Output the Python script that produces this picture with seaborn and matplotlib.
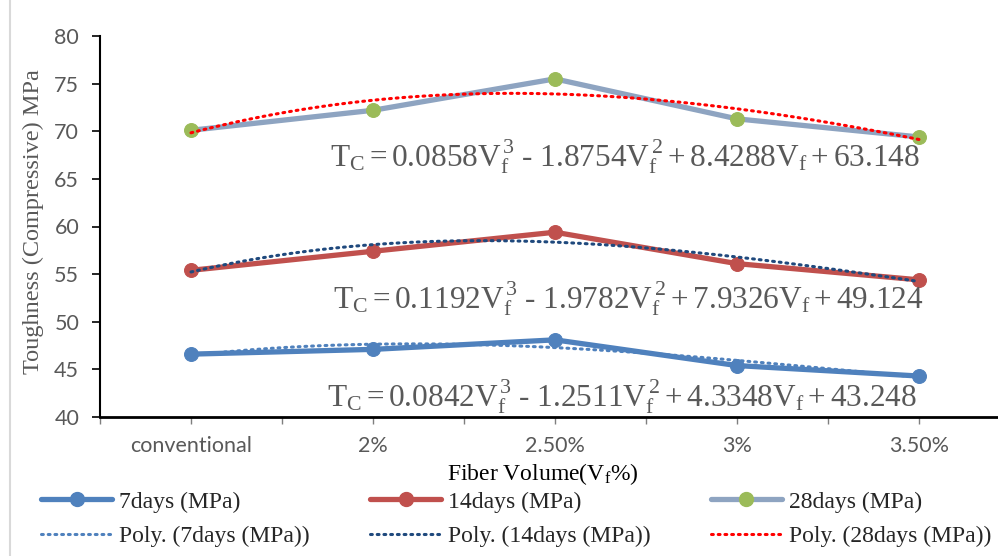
import numpy as np
import pandas as pd
import matplotlib
matplotlib.use("Agg")
import matplotlib.pyplot as plt
from matplotlib.lines import Line2D
import seaborn as sns

# data
categories = ["conventional", "2%", "2.50%", "3%", "3.50%"]
days7 = [46.6, 47.1, 48.1, 45.4, 44.3]
days14 = [55.4, 57.4, 59.4, 56.1, 54.4]
days28 = [70.1, 72.2, 75.5, 71.3, 69.4]

eq28 = r"$\mathregular{T_C = 0.0858V_f^{\,3}\ \text{-}\ 1.8754V_f^{\,2} + 8.4288V_f + 63.148}$"
eq14 = r"$\mathregular{T_C = 0.1192V_f^{\,3}\ \text{-}\ 1.9782V_f^{\,2} + 7.9326V_f + 49.124}$"
eq7 = r"$\mathregular{T_C = 0.0842V_f^{\,3}\ \text{-}\ 1.2511V_f^{\,2} + 4.3348V_f + 43.248}$"

sns.set_style("white")
plt.rcParams["mathtext.fontset"] = "custom"
plt.rcParams["mathtext.rm"] = "Liberation Serif"
plt.rcParams["mathtext.it"] = "Liberation Serif:italic"
plt.rcParams["font.family"] = ["Liberation Serif", "DejaVu Sans"]

grey = "#595959"
x = np.arange(len(categories))
df = pd.DataFrame({"x": x, "d7": days7, "d14": days14, "d28": days28})

W, H = 998, 556
fig = plt.figure(figsize=(W / 100, H / 100), dpi=100)
ax = fig.add_axes([100 / W, 1 - 417 / H, 910 / W, 381 / H])

# Excel chart border (left edge visible)
fig.add_artist(Line2D([10 / W, 10 / W], [0, 1], color="#d9d9d9", lw=1.5))

series = [
    ("d7", "7days (MPa)", "#4f81bd", "#4f81bd", "#4f81bd", "Poly. (7days (MPa))"),
    ("d14", "14days (MPa)", "#c0504d", "#c0504d", "#1f497d", "Poly. (14days (MPa))"),
    ("d28", "28days (MPa)", "#8ea4c1", "#9bbb59", "#ff0000", "Poly. (28days (MPa))"),
]

handles = []
for col, lab, lc, mc, pc, plab in series:
    sns.lineplot(data=df, x="x", y=col, ax=ax, color=lc, lw=3.8, marker="o",
                 markersize=10, markerfacecolor=mc, markeredgecolor=mc,
                 label=lab, legend=False, zorder=3)
    sns.regplot(data=df, x="x", y=col, order=3, scatter=False, ci=None, ax=ax,
                truncate=True,
                line_kws=dict(color=pc, lw=2.2, linestyle=(0, (0.6, 1.6)),
                              dash_capstyle="round", zorder=4))
    h_main = Line2D([], [], color=lc, lw=3.8, marker="o", markersize=10,
                    markerfacecolor=mc, markeredgecolor=mc)
    h_poly = Line2D([], [], color=pc, lw=2.2, linestyle=(0, (0.6, 1.6)),
                    dash_capstyle="round")
    handles += [(h_main, lab), (h_poly, plab)]

ax.set_xlabel("")
ax.set_ylabel("")

ax.text(2.385, 67.3, eq28, fontsize=22.5, color=grey, ha="center", va="center")
ax.text(2.40, 52.4, eq14, fontsize=22.5, color=grey, ha="center", va="center")
ax.text(2.37, 42.1, eq7, fontsize=22.5, color=grey, ha="center", va="center")

ax.set_xlim(-0.5, 4.5)
ax.set_ylim(40, 80)
ax.set_yticks(np.arange(40, 81, 5))
ax.set_xticks(x)
ax.set_xticklabels(categories)
ax.set_xticks(np.arange(-0.5, 4.6, 1), minor=True)

for s in ["top", "right"]:
    ax.spines[s].set_visible(False)
ax.spines["left"].set_color("black")
ax.spines["left"].set_linewidth(1.5)
ax.spines["bottom"].set_color("black")
ax.spines["bottom"].set_linewidth(2)

ax.tick_params(axis="y", which="major", direction="out", length=6, width=1.2,
               color="black", left=True, labelsize=15.5, labelcolor=grey, pad=9)
ax.tick_params(axis="x", which="both", direction="out", length=5, width=1,
               color="#7f7f7f", bottom=True, labelsize=15.5, labelcolor=grey, pad=9)
for lbl in ax.get_xticklabels() + ax.get_yticklabels():
    lbl.set_fontfamily(["Lato", "DejaVu Sans"])

fig.text(543 / W, 1 - 474 / H, r"Fiber Volume(V$_\mathregular{f}$%)", fontsize=17,
         color="black", ha="center", va="center")
fig.text(33 / W, 1 - 222 / H, "Toughness (Compressive) MPa", fontsize=17.5,
         color=grey, rotation=90, ha="center", va="center")

fig.legend([h for h, _ in handles], [l for _, l in handles], ncol=3,
           loc="center left", bbox_to_anchor=(32 / W, 1 - 519 / H),
           frameon=False, fontsize=17, handlelength=3.0, handletextpad=0.3,
           columnspacing=2.55, labelspacing=0.55, borderaxespad=0)

fig.savefig("out.png", dpi=100)
